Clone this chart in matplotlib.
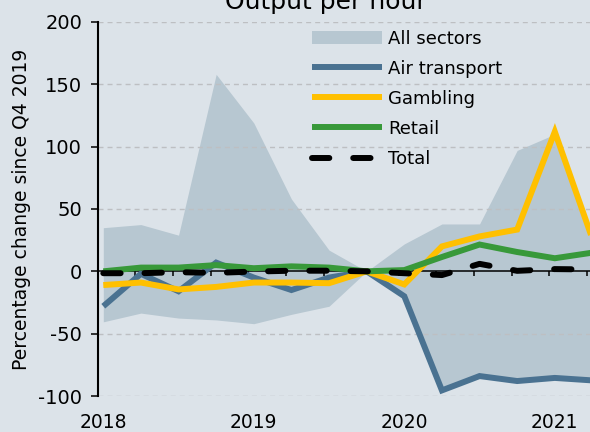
import matplotlib
matplotlib.use("Agg")
import matplotlib.pyplot as plt

# ---- data ----
quarters = ["2018 Q1", "2018 Q2", "2018 Q3", "2018 Q4",
            "2019 Q1", "2019 Q2", "2019 Q3", "2019 Q4",
            "2020 Q1", "2020 Q2", "2020 Q3", "2020 Q4",
            "2021 Q1", "2021 Q2"]
all_hi = [35, 37.5, 29, 158, 119, 58, 17, 0, 22, 38, 38, 97, 110, 30]
all_lo = [-40.5, -33.5, -37.5, -39, -42, -34.5, -28, 0, -20, -95.5, -84, -88, -85.5, -87.5]
air_transport = [-28, -2, -16, 7, -5, -15, -5, 0, -20, -95.5, -84, -88, -85.5, -87.5]
gambling = [-11, -9, -14.5, -12.5, -9, -9, -9.5, 0, -10.5, 20, 28, 33.5, 112, 26]
retail = [0, 3, 3, 5, 2.5, 4, 3, 0, 1, 11.5, 21.5, 15.5, 10.5, 15]
total = [-1.5, -1.5, -0.7, -1.2, -0.2, 0.5, 0.5, 0, -1.5, -3, 6, 0.4, 1.8, 1.5]
year_labels = ["2018", "2019", "2020", "2021"]
y_ticks = [-100, -50, 0, 50, 100, 150, 200]

# quarter strings -> decimal year positions
x = [int(q[:4]) + (int(q[-1]) - 1) / 4 for q in quarters]
years = [int(y) for y in year_labels]

BG = "#DCE3E9"
FILL = "#B7C7D1"
AIR = "#4A7291"
GAMB = "#FFC000"
RET = "#38993A"

W, H = 590, 432
fig = plt.figure(figsize=(W / 100, H / 100), dpi=100, facecolor=BG)
ax_left, ax_right = 97.5 / W, 1.0
ax_bottom, ax_top = (H - 396) / H, (H - 22) / H
ax = fig.add_axes([ax_left, ax_bottom, ax_right - ax_left, ax_top - ax_bottom])
ax.set_facecolor(BG)

px_per_year = 150.5
ax.set_xlim(2018 - 5.8 / px_per_year, 2018 + (W - 103.3) / px_per_year)
ax.set_ylim(-100, 200)

ax.fill_between(x, all_lo, all_hi, color=FILL, lw=0, zorder=1, label="All sectors")

for yv in y_ticks:
    if yv != 0:
        ax.axhline(yv, color="#BDBFC2", lw=1.0, dashes=(3.6, 2.9), zorder=1.5)

lw = 4.3
ax.plot(x, air_transport, color=AIR, lw=lw, solid_joinstyle="miter",
        solid_capstyle="butt", zorder=3, label="Air transport")
ax.plot(x, gambling, color=GAMB, lw=lw, solid_joinstyle="miter",
        solid_capstyle="butt", zorder=4, label="Gambling")
ax.plot(x, retail, color=RET, lw=lw, solid_joinstyle="miter",
        solid_capstyle="butt", zorder=5, label="Retail")
ax.plot(x, total, color="black", lw=lw, dashes=(2.9, 4.0),
        dash_capstyle="round", zorder=6, label="Total")

# spines
for s in ["top", "right"]:
    ax.spines[s].set_visible(False)
ax.spines["left"].set_linewidth(1.5)
ax.spines["bottom"].set_position(("data", 0))
ax.spines["bottom"].set_linewidth(1.1)
ax.spines["bottom"].set_zorder(2)

ax.set_yticks(y_ticks)
ax.set_yticklabels([str(v) for v in y_ticks])
ax.tick_params(axis="y", length=5, width=1.1, pad=6, labelsize=14,
               colors="black")

tick_offset = 5.5 / px_per_year
ax.set_xticks([v - tick_offset for v in x])
ax.tick_params(axis="x", direction="out", length=3.6, width=1.1,
               labelbottom=False)

sec = ax.secondary_xaxis("bottom")
sec.set_xticks(years)
sec.set_xticklabels(year_labels)
sec.tick_params(length=0, pad=12.5, labelsize=13.5)
sec.spines["bottom"].set_visible(False)

ax.set_ylabel("Percentage change since Q4 2019", fontsize=13.5, labelpad=5)

fig.text(326 / W, (H - 9) / H, "Output per hour", fontsize=18,
         ha="center", va="baseline")

leg = ax.legend(loc="upper left", bbox_to_anchor=(311.7 / W, (H - 29.5) / H),
                bbox_transform=fig.transFigure, frameon=False, fontsize=13,
                handlelength=3.9, handletextpad=0.35, labelspacing=0.67,
                borderpad=0, borderaxespad=0)

fig.savefig("out.png", dpi=100, facecolor=BG)
